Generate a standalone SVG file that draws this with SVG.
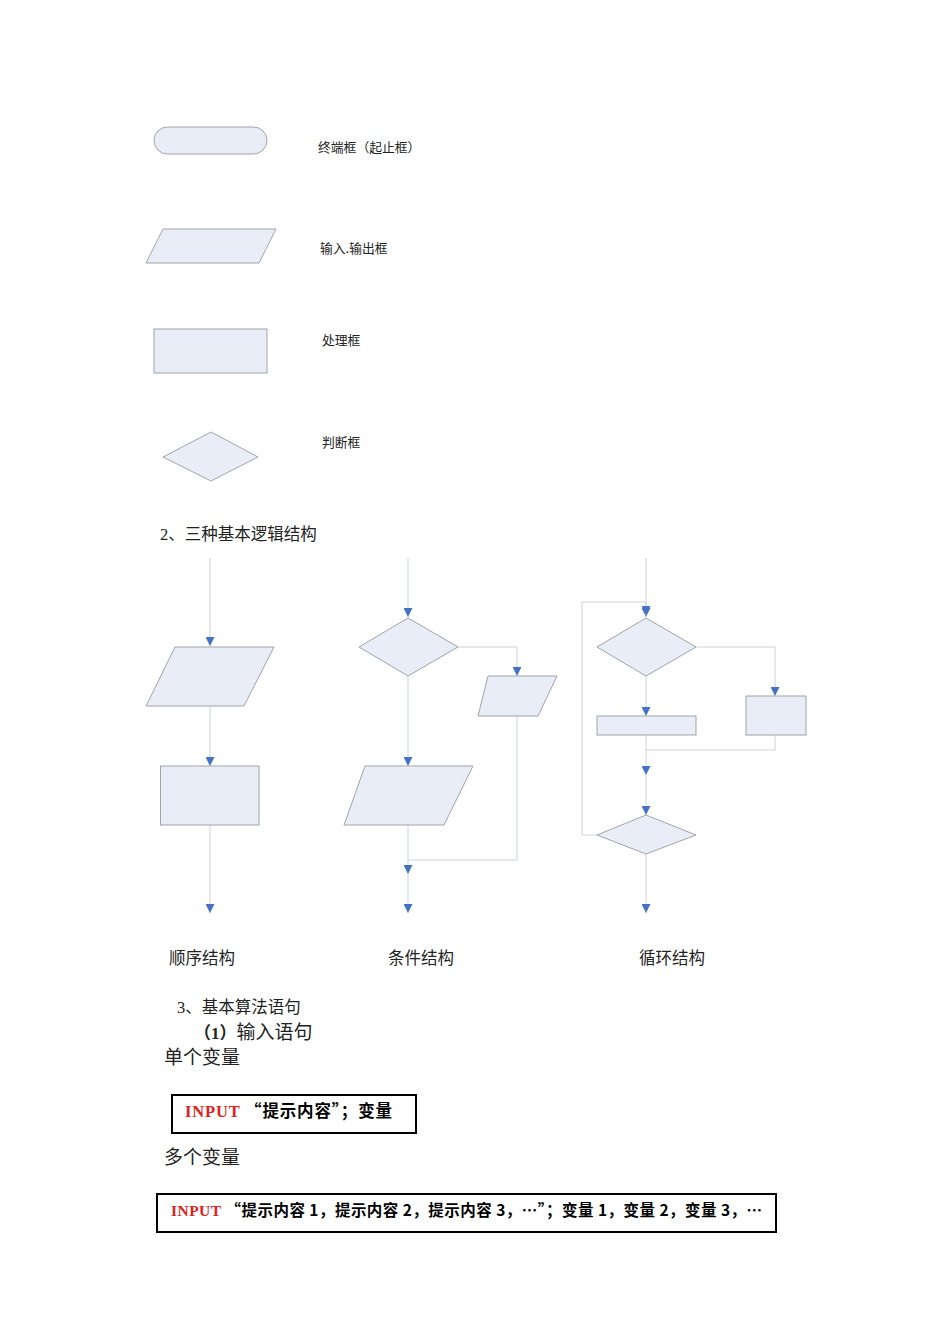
<svg xmlns="http://www.w3.org/2000/svg" width="950" height="1344" viewBox="0 0 950 1344">
<defs>
<style>
.shape{fill:#e8edf7;stroke:#a3a3a8;stroke-width:1}
.ln{fill:none;stroke:#cdd2dc;stroke-width:1}
.lbl{font-family:"Noto Sans CJK SC","Liberation Sans",sans-serif;font-size:12.8px;fill:#222}
.body{font-family:"Liberation Serif","Noto Sans CJK SC",serif;font-size:16.5px;fill:#222}
.big{font-family:"Liberation Serif","Noto Sans CJK SC",serif;font-size:19px;fill:#222}
.box{fill:#fff;stroke:#000;stroke-width:2}
.code{font-family:"Noto Sans CJK SC","Liberation Serif",serif;font-weight:bold;fill:#000}
.red{fill:#e02020;font-family:"Liberation Serif",serif}
</style>
<marker id="arr" viewBox="0 0 10 10" refX="10" refY="5" markerWidth="10" markerHeight="9" orient="auto" markerUnits="userSpaceOnUse">
<path d="M0,0 L10,5 L0,10 Z" fill="#4472c4"/>
</marker>
</defs>
<rect width="950" height="1344" fill="#fff"/>

<!-- Legend -->
<g id="legend-terminal"><rect class="shape" x="154" y="127" width="113" height="27" rx="13.5"/><text class="lbl" x="318" y="152">终端框（起止框）</text></g>
<g id="legend-io"><polygon class="shape" points="163,229 276,229 259,263 146,263"/><text class="lbl" x="320" y="253">输入.输出框</text></g>
<g id="legend-process"><rect class="shape" x="154" y="329" width="113" height="44"/><text class="lbl" x="322" y="345">处理框</text></g>
<g id="legend-decision"><polygon class="shape" points="211,432 258,457 211,481 163,457"/><text class="lbl" x="322" y="447">判断框</text></g>

<text class="body" x="160" y="540">2、三种基本逻辑结构</text>

<!-- Connectors -->
<g id="connectors">
<!-- sequence -->
<path class="ln" d="M210,558 V646" marker-end="url(#arr)"/>
<path class="ln" d="M210,706 V766" marker-end="url(#arr)"/>
<path class="ln" d="M210,825 V913" marker-end="url(#arr)"/>
<!-- condition -->
<path class="ln" d="M408,558 V617" marker-end="url(#arr)"/>
<path class="ln" d="M458,647 H517 V676" marker-end="url(#arr)"/>
<path class="ln" d="M408,676 V766" marker-end="url(#arr)"/>
<path class="ln" d="M517,716 V860 H408"/>
<path class="ln" d="M408,825 V874" marker-end="url(#arr)"/>
<path class="ln" d="M408,874 V913" marker-end="url(#arr)"/>
<!-- loop -->
<path class="ln" d="M646,558 V617" marker-end="url(#arr)"/>
<path class="ln" d="M597,835 H582 V602 H646 V615" marker-end="url(#arr)"/>
<path class="ln" d="M696,647 H775 V696" marker-end="url(#arr)"/>
<path class="ln" d="M646,676 V716" marker-end="url(#arr)"/>
<path class="ln" d="M775,735 V750 H646"/>
<path class="ln" d="M646,735 V775" marker-end="url(#arr)"/>
<path class="ln" d="M646,775 V815" marker-end="url(#arr)"/>
<path class="ln" d="M646,854 V913" marker-end="url(#arr)"/>
</g>

<!-- Sequence nodes -->
<g id="seq-io"><polygon class="shape" points="175,647 274,647 244,706 146,706"/></g>
<g id="seq-process"><rect class="shape" x="160.5" y="766" width="98.5" height="59"/></g>

<!-- Condition nodes -->
<g id="cond-decision"><polygon class="shape" points="408,618 458,647 408,676 359,647"/></g>
<g id="cond-io-right"><polygon class="shape" points="488,676 557,676 538,716 478,716"/></g>
<g id="cond-io-main"><polygon class="shape" points="365,766 473,766 444,825 344,825"/></g>

<!-- Loop nodes -->
<g id="loop-decision-top"><polygon class="shape" points="646,618 696,647 646,676 597,647"/></g>
<g id="loop-process-left"><rect class="shape" x="597" y="716" width="99" height="19"/></g>
<g id="loop-process-right"><rect class="shape" x="746" y="696" width="60" height="39"/></g>
<g id="loop-decision-bottom"><polygon class="shape" points="646,815 696,835 646,854 597,835"/></g>

<text class="body" x="169" y="964">顺序结构</text>
<text class="body" x="388" y="964">条件结构</text>
<text class="body" x="639" y="964">循环结构</text>

<text class="body" x="177" y="1013">3、基本算法语句</text>
<text class="big" x="194" y="1039"><tspan font-weight="bold" font-size="17">（1）</tspan>输入语句</text>
<text class="big" x="164" y="1064">单个变量</text>

<g id="box-single">
<rect class="box" x="172" y="1095" width="244" height="38"/>
<text class="code" x="185" y="1117" font-size="16.5" textLength="207" lengthAdjust="spacing"><tspan class="red">INPUT</tspan> “提示内容”；变量</text>
</g>

<text class="big" x="164" y="1164">多个变量</text>

<g id="box-multi">
<rect class="box" x="157" y="1194" width="619" height="38"/>
<text class="code" x="171" y="1216" font-size="15.5" textLength="591" lengthAdjust="spacing"><tspan class="red">INPUT</tspan> “提示内容 1，提示内容 2，提示内容 3，…”；变量 1，变量 2，变量 3，…</text>
</g>
</svg>
